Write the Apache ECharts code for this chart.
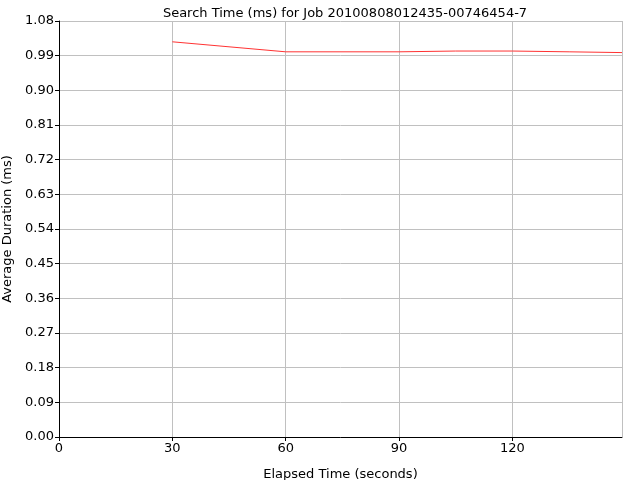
<!DOCTYPE html>
<html>
<head>
<meta charset="utf-8">
<script src="https://cdn.jsdelivr.net/npm/echarts@6/dist/echarts.min.js"></script>
<style>
  html, body { margin: 0; padding: 0; background: #fff; }
  #main { width: 640px; height: 480px; }
</style>
</head>
<body>
<div id="main"></div>
<script>
// elapsed seconds and average search duration (ms)
var elapsed = [30, 60, 90, 105, 120, 135, 149];
var duration = [1.026, 1.000, 1.000, 1.002, 1.002, 1.000, 0.998];
var yTicks = { min: 0, max: 1.08, step: 0.09 };

var font = 'DejaVu Sans';
var chart = echarts.init(document.getElementById('main'));

var points = [];
for (var i = 0; i < elapsed.length; i++) {
    points.push([elapsed[i], duration[i]]);
}

var option = {
    backgroundColor: '#ffffff',
    animation: false,
    title: {
        text: 'Search Time (ms) for Job 20100808012435-00746454-7',
        left: 340,
        top: 2,
        textAlign: 'center',
        textStyle: { fontFamily: font, fontSize: 13, fontWeight: 'normal', color: '#000' }
    },
    grid: { left: 59, right: 18, top: 21, bottom: 43, containLabel: false, outerBoundsMode: 'none' },
    xAxis: {
        type: 'value',
        min: 0,
        max: 149,
        interval: 30,
        name: 'Elapsed Time (seconds)',
        nameLocation: 'middle',
        nameGap: 31,
        nameTextStyle: { fontFamily: font, fontSize: 13, color: '#000' },
        axisLine: { show: true, onZero: false, lineStyle: { color: '#000', width: 1 } },
        axisTick: { show: true, length: 4, lineStyle: { color: '#000' } },
        axisLabel: { fontFamily: font, fontSize: 13, color: '#000', margin: 5, showMaxLabel: false },
        splitLine: { show: true, lineStyle: { color: '#c0c0c0', width: 1 } }
    },
    yAxis: {
        type: 'value',
        min: yTicks.min,
        max: yTicks.max,
        interval: yTicks.step,
        name: 'Average Duration (ms)',
        nameLocation: 'middle',
        nameGap: 42,
        nameTextStyle: { fontFamily: font, fontSize: 13, color: '#000' },
        axisLine: { show: true, lineStyle: { color: '#000', width: 1 } },
        axisTick: { show: true, length: 4, lineStyle: { color: '#000' } },
        axisLabel: {
            fontFamily: font, fontSize: 13, color: '#000', margin: 5,
            formatter: function (v) { return v.toFixed(2); }
        },
        splitLine: { show: true, lineStyle: { color: '#c0c0c0', width: 1 } }
    },
    series: [{
        type: 'line',
        data: points,
        showSymbol: false,
        lineStyle: { color: '#ff3333', width: 1 },
        itemStyle: { color: '#ff3333' }
    }]
};

chart.setOption(option);
</script>
</body>
</html>
